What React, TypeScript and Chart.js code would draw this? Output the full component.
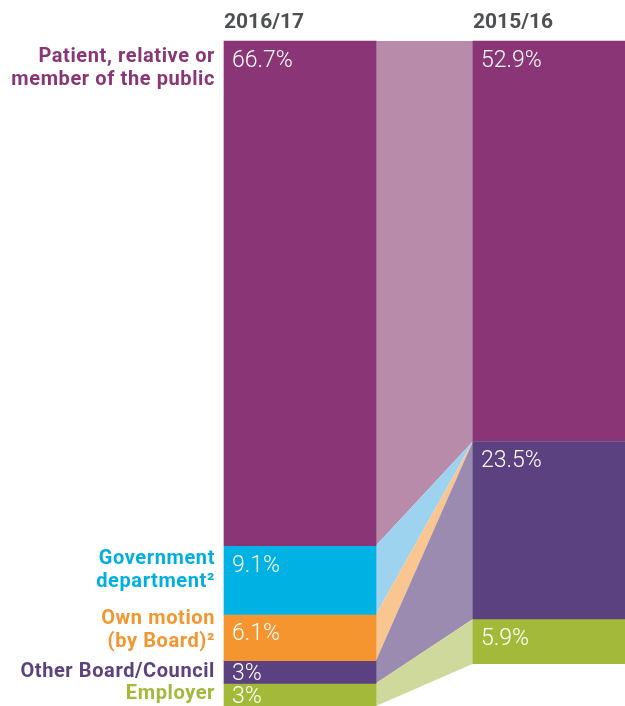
import React, { useEffect, useRef } from "react";
import { Chart, registerables } from "chart.js";

Chart.register(...registerables);

// ---- data ----
const years = ["2016/17", "2015/16"];
const categoryLines = [
  ["Patient, relative or", "member of the public"],
  ["Government", "department\u00B2"],
  ["Own motion", "(by Board)\u00B2"],
  ["Other Board/Council"],
  ["Employer"],
];
const patient = [66.7, 52.9];
const government = [9.1, 0];
const ownMotion = [6.1, 0];
const otherBoard = [3, 23.5];
const employer = [3, 5.9];
const seriesValues = [patient, government, ownMotion, otherBoard, employer];
const valueLabels = [
  ["66.7%", "52.9%"],
  ["9.1%", ""],
  ["6.1%", ""],
  ["3%", "23.5%"],
  ["3%", "5.9%"],
];

// ---- styles ----
const barColors = ["#8a3575", "#00b2e3", "#f4952f", "#5b4180", "#a3b93a"];
const bandColors = ["#b78ba9", "#9dd3ef", "#f9c590", "#9b8bb0", "#cfd99b"];
const labelColors = ["#8a3575", "#00aee0", "#f4952f", "#5b4180", "#a3b93a"];
const labelBaselineOffsets = [21, 18, 10, 16, 16];
const Y_MAX = 87.9;

const bandsPlugin = {
  id: "bandsAndLabels",
  beforeDatasetsDraw(chart: any) {
    const ctx = chart.ctx;
    ctx.save();
    chart.data.datasets.forEach((_ds: any, i: number) => {
      const meta = chart.getDatasetMeta(i);
      const a = meta.data[0];
      const b = meta.data[1];
      if (!a || !b) return;
      const ax = a.x + a.width / 2;
      const bx = b.x - b.width / 2;
      const aTop = Math.min(a.y, a.base);
      const aBot = Math.max(a.y, a.base);
      const bTop = Math.min(b.y, b.base);
      const bBot = Math.max(b.y, b.base);
      ctx.beginPath();
      ctx.moveTo(ax, aTop);
      ctx.lineTo(bx, bTop);
      ctx.lineTo(bx, bBot);
      ctx.lineTo(ax, aBot);
      ctx.closePath();
      ctx.fillStyle = bandColors[i];
      ctx.fill();
    });
    ctx.restore();
  },
  afterDatasetsDraw(chart: any) {
    const ctx = chart.ctx;
    ctx.save();
    // value labels
    ctx.font = "300 23px Roboto";
    ctx.fillStyle = "#ffffff";
    ctx.textAlign = "left";
    ctx.textBaseline = "alphabetic";
    const cap = 23 * 0.711;
    chart.data.datasets.forEach((_ds: any, i: number) => {
      const meta = chart.getDatasetMeta(i);
      meta.data.forEach((bar: any, j: number) => {
        const txt = valueLabels[i][j];
        if (!txt) return;
        const top = Math.min(bar.y, bar.base);
        const h = Math.abs(bar.base - bar.y);
        const baseline = top + Math.min(26, (h + cap) / 2);
        ctx.fillText(txt, bar.x - bar.width / 2 + 8, baseline);
      });
    });
    // category labels on the left
    ctx.font = "bold 20px Roboto";
    (ctx as any).letterSpacing = "0.6px";
    ctx.textAlign = "right";
    categoryLines.forEach((lines, i) => {
      const bar = chart.getDatasetMeta(i).data[0];
      const top = Math.min(bar.y, bar.base);
      const x = bar.x - bar.width / 2 - 9;
      ctx.fillStyle = labelColors[i];
      lines.forEach((ln, k) => {
        ctx.fillText(ln, x, top + labelBaselineOffsets[i] + k * 23);
      });
    });
    // year headers
    ctx.font = "bold 21px Roboto";
    (ctx as any).letterSpacing = "0px";
    ctx.textAlign = "left";
    ctx.fillStyle = "#4d4f52";
    const meta0 = chart.getDatasetMeta(0);
    years.forEach((y, j) => {
      const bar = meta0.data[j];
      ctx.fillText(y, bar.x - bar.width / 2, 28);
    });
    ctx.restore();
  },
};

export default function App() {
  const ref = useRef<HTMLCanvasElement>(null);
  useEffect(() => {
    if (!ref.current) return;
    const chart = new Chart(ref.current, {
      type: "bar",
      data: {
        labels: years,
        datasets: seriesValues.map((vals, i) => ({
          label: categoryLines[i].join(" "),
          data: vals,
          backgroundColor: barColors[i],
          borderWidth: 0,
          barThickness: 152,
          clip: false as any,
        })),
      },
      options: {
        animation: false,
        responsive: false,
        maintainAspectRatio: false,
        layout: { padding: { top: 41, left: 300, right: 76, bottom: 0 } },
        plugins: { legend: { display: false }, tooltip: { enabled: false } },
        scales: {
          x: { stacked: true, display: false, offset: false, grid: { display: false } },
          y: { stacked: true, display: false, reverse: true, min: 0, max: Y_MAX },
        },
      },
      plugins: [bandsPlugin],
    });
    return () => chart.destroy();
  }, []);
  return (
    <div style={{ position: "absolute", left: 0, top: 0, width: 625, height: 706, background: "#fff" }}>
      <canvas ref={ref} width={625} height={706} style={{ width: 625, height: 706, display: "block" }} />
    </div>
  );
}
